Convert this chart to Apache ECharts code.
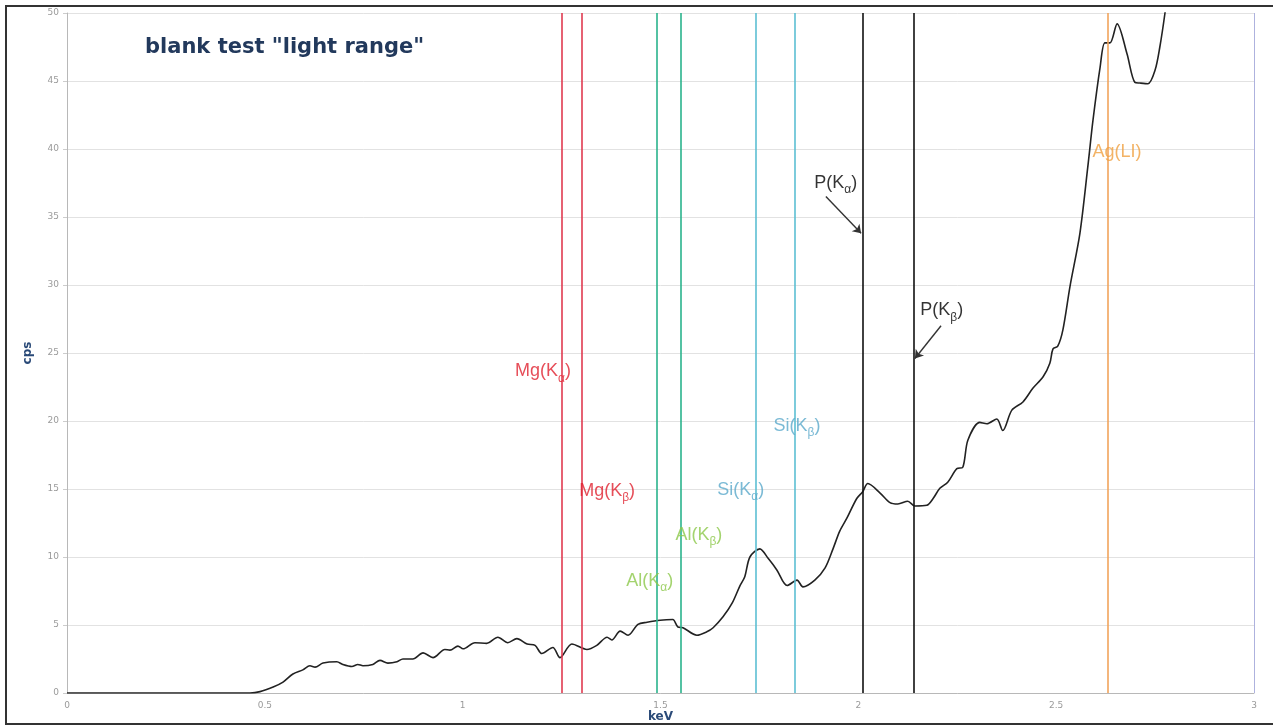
<!DOCTYPE html>
<html>
<head>
<meta charset="utf-8">
<script src="https://cdn.jsdelivr.net/npm/echarts@6/dist/echarts.min.js"></script>
<style>html,body{margin:0;padding:0;background:#fff}#chart{width:1273px;height:727px}</style>
</head>
<body>
<div id="chart"></div>
<script>
// Spectrum (keV, cps)
const energy = [0, 0.2, 0.45, 0.4625, 0.488, 0.521, 0.546, 0.571, 0.596, 0.614, 0.627, 0.647, 0.682, 0.697, 0.720, 0.735, 0.748, 0.773, 0.791, 0.811, 0.834, 0.849, 0.874, 0.900, 0.925, 0.955, 0.968, 0.988, 1.001, 1.031, 1.061, 1.089, 1.114, 1.137, 1.163, 1.183, 1.200, 1.228, 1.246, 1.276, 1.314, 1.339, 1.365, 1.377, 1.398, 1.418, 1.443, 1.466, 1.499, 1.531, 1.544, 1.557, 1.592, 1.617, 1.633, 1.658, 1.681, 1.701, 1.713, 1.726, 1.751, 1.772, 1.794, 1.820, 1.845, 1.860, 1.890, 1.916, 1.936, 1.953, 1.971, 1.996, 2.011, 2.024, 2.055, 2.080, 2.100, 2.125, 2.143, 2.173, 2.189, 2.206, 2.226, 2.249, 2.264, 2.277, 2.307, 2.325, 2.350, 2.365, 2.388, 2.416, 2.441, 2.467, 2.484, 2.492, 2.504, 2.517, 2.535, 2.560, 2.580, 2.593, 2.611, 2.623, 2.636, 2.654, 2.679, 2.699, 2.712, 2.732, 2.750, 2.762, 2.775, 2.79];
const cps = [0, 0, 0, 0, 0.1, 0.44, 0.8, 1.4, 1.7, 2.0, 1.9, 2.2, 2.3, 2.1, 1.95, 2.1, 2.0, 2.1, 2.4, 2.2, 2.3, 2.5, 2.5, 2.95, 2.6, 3.2, 3.15, 3.45, 3.25, 3.7, 3.65, 4.1, 3.7, 4.0, 3.6, 3.5, 2.9, 3.35, 2.6, 3.6, 3.2, 3.5, 4.1, 3.9, 4.55, 4.25, 5.05, 5.2, 5.35, 5.4, 4.85, 4.8, 4.25, 4.5, 4.8, 5.6, 6.6, 7.9, 8.55, 10.0, 10.6, 9.9, 9.05, 7.9, 8.3, 7.8, 8.3, 9.2, 10.6, 11.9, 12.85, 14.3, 14.8, 15.4, 14.7, 14.0, 13.9, 14.1, 13.75, 13.8, 14.3, 15.05, 15.5, 16.5, 16.6, 18.6, 19.9, 19.8, 20.15, 19.3, 20.8, 21.4, 22.4, 23.25, 24.25, 25.3, 25.5, 26.7, 29.9, 33.8, 38.7, 42.1, 46.0, 47.8, 47.8, 49.2, 47.0, 44.9, 44.85, 44.8, 45.8, 47.5, 50.0, 53.5];

// Element line energies (keV)
const lineNames  = ['Mg(Ka)', 'Mg(Kb)', 'Al(Ka)', 'Al(Kb)', 'Si(Ka)', 'Si(Kb)', 'P(Ka)', 'P(Kb)', 'Ag(Ll)', 'edge'];
const lineEnergy = [1.254, 1.297, 1.486, 1.552, 1.739, 1.837, 2.012, 2.138, 2.631, 3.0];
const lineColors = ['#e03a50', '#e03a50', '#2ab38c', '#2ab38c', '#5cbfd3', '#5cbfd3', '#111111', '#111111', '#f2a45c', '#aeb2de'];

// Labels: element, subscript, position (keV, cps), colour
const labelMain  = ['Mg(K', 'Mg(K', 'Al(K', 'Al(K', 'Si(K', 'Si(K', 'P(K', 'P(K', 'Ag(LI)'];
const labelSub   = ['α', 'β', 'α', 'β', 'α', 'β', 'α', 'β', ''];
const labelX     = [1.203, 1.365, 1.473, 1.597, 1.703, 1.845, 1.943, 2.211, 2.654];
const labelY     = [23.5, 14.7, 8.1, 11.5, 14.8, 19.5, 37.35, 28.0, 39.6];
const labelColor = ['#e0202e', '#e0202e', '#8cc84a', '#8cc84a', '#5aa9cb', '#5aa9cb', '#000000', '#000000', '#f0a040'];

// Arrows for P labels
const arrowFrom = [[1.918, 36.5], [2.209, 27.0]];
const arrowTo   = [[2.007, 33.8], [2.143, 24.6]];

const xTicks = [0, 0.5, 1, 1.5, 2, 2.5, 3];
const yTicks = [0, 5, 10, 15, 20, 25, 30, 35, 40, 45, 50];

const chart = echarts.init(document.getElementById('chart'));

const spectrum = energy.map((e, i) => [e, cps[i]]);

const labelSeries = labelMain.map((m, i) => ({
  type: 'scatter',
  data: [[labelX[i], labelY[i]]],
  symbolSize: 0,
  silent: true,
  z: 5,
  label: {
    show: true,
    position: 'inside',
    formatter: labelSub[i] ? '{b|' + m + '}{s|' + labelSub[i] + '}{b|)}' : '{b|' + m + '}',
    rich: {
      b: { fontSize: 18, fontFamily: 'Liberation Sans', color: labelColor[i], verticalAlign: 'bottom', lineHeight: 22, padding: [0, 0, 4, 0] },
      s: { fontSize: 12, fontFamily: 'Liberation Sans', color: labelColor[i], verticalAlign: 'bottom', lineHeight: 14 }
    }
  }
}));

chart.setOption({
  animation: false,
  backgroundColor: '#ffffff',
  grid: { left: 67, right: 19, top: 13, bottom: 34, containLabel: false, outerBoundsMode: 'none' },
  graphic: [
    { type: 'rect', shape: { x: 6, y: 6, width: 1270, height: 718 }, style: { fill: 'none', stroke: '#333', lineWidth: 2 }, z: 100 },
    { type: 'text', left: 145, top: 37, style: { text: 'blank test "light range"', fontFamily: 'DejaVu Sans', fontWeight: 'bold', fontSize: 21, fill: '#22395c' }, z: 50 }
  ],
  xAxis: {
    type: 'value', min: 0, max: 3, interval: 0.5,
    name: 'keV', nameLocation: 'middle', nameGap: 18, nameMoveOverlap: false,
    nameTextStyle: { fontFamily: 'DejaVu Sans', fontWeight: 'bold', fontSize: 12, color: '#2a4a78' },
    axisLine: { show: true, lineStyle: { color: '#b8b8b8', width: 1 } },
    axisTick: { show: false },
    splitLine: { show: false },
    axisLabel: { fontFamily: 'DejaVu Sans', fontSize: 9, color: '#9a9a9a', margin: 8, formatter: v => xTicks.includes(v) ? String(v) : '' }
  },
  yAxis: {
    type: 'value', min: 0, max: 50, interval: 5,
    name: 'cps', nameLocation: 'middle', nameGap: 33,
    nameTextStyle: { fontFamily: 'DejaVu Sans', fontWeight: 'bold', fontSize: 12, color: '#2a4a78' },
    axisLine: { show: true, lineStyle: { color: '#b8b8b8', width: 1 } },
    axisTick: { show: true, length: 4, lineStyle: { color: '#cccccc' } },
    splitLine: { show: true, lineStyle: { color: '#e2e2e2', width: 1 } },
    axisLabel: { fontFamily: 'DejaVu Sans', fontSize: 9, color: '#9a9a9a', margin: 8, formatter: v => yTicks.includes(v) ? String(v) : '' }
  },
  series: [
    {
      type: 'line',
      data: spectrum,
      showSymbol: false,
      smooth: 0.3,
      clip: true,
      z: 4,
      lineStyle: { color: '#222222', width: 1.6 },
      markLine: {
        silent: true,
        symbol: ['none', 'none'],
        label: { show: false },
        data: lineEnergy.map((e, i) => ({ xAxis: e, lineStyle: { color: lineColors[i], width: i === 9 ? 1 : 1.6, type: 'solid' } }))
      }
    },
    {
      type: 'line',
      data: [],
      z: 6,
      markLine: {
        silent: true,
        symbol: ['none', 'arrow'],
        symbolSize: 8,
        label: { show: false },
        lineStyle: { color: '#333333', width: 1.4, type: 'solid' },
        data: arrowFrom.map((f, i) => [{ coord: f }, { coord: arrowTo[i] }])
      }
    },
    ...labelSeries
  ]
});
</script>
</body>
</html>
